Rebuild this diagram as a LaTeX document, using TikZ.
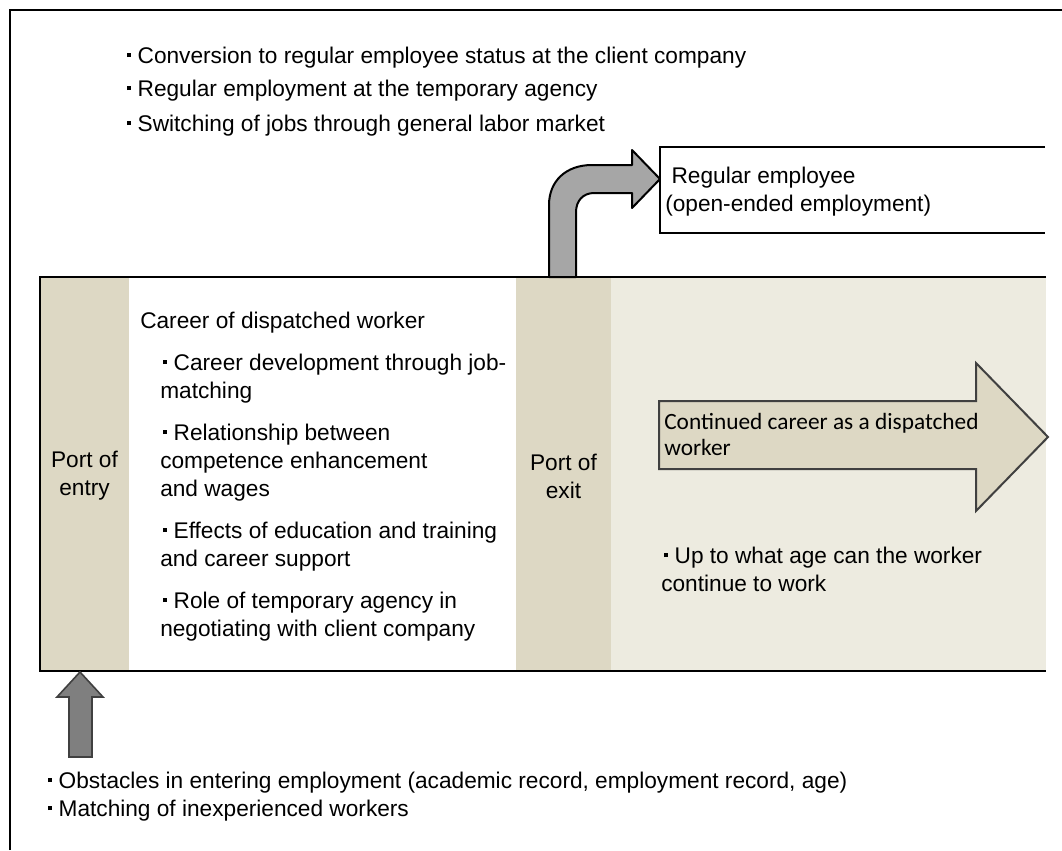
\documentclass[tikz,border=0pt]{standalone}
\usepackage{fontspec}
\setmainfont{Liberation Sans}
\newfontfamily\calfont{Carlito}

\definecolor{portfill}{HTML}{DDD8C4}
\definecolor{workfill}{HTML}{EDEBE0}
\definecolor{bendgray}{HTML}{A6A6A6}
\definecolor{upgray}{HTML}{7F7F7F}
\definecolor{edgegray}{HTML}{404040}

% 小方点
\newcommand{\bul}{\hspace{0.13em}\rule[0.27em]{0.16em}{0.16em}\hspace{0.3em}}

\tikzset{
    txt/.style={anchor=north west, inner sep=0pt, align=left, font=\fontsize{17}{21}\selectfont},
    porttxt/.style={anchor=center, inner sep=0pt, align=center, font=\fontsize{17}{21}\selectfont},
}

\begin{document}
\begin{tikzpicture}[x=0.75pt, y=-0.75pt]
    \useasboundingbox (0,0) rectangle (1062,850);

    % 外框
    \draw[line width=1.5pt] (10,850) -- (10,10) -- (1062,10);

    % 上方说明
    \node[txt] (conv) at (124,46.5) {\bul Conversion to regular employee status at the client company};
    \node[txt] (agency) at (124,79.5) {\bul Regular employment at the temporary agency};
    \node[txt] (switch) at (124,114.5) {\bul Switching of jobs through general labor market};

    % 正式员工
    \draw[line width=1.5pt] (1045,147) -- (660,147) -- (660,233) -- (1045,233);
    \node[txt] (regular) at (665,166.5) {\hspace{0.28em}Regular employee\\(open-ended employment)};

    % 派遣区域
    \fill[portfill] (40,277) rectangle (129,671);
    \fill[portfill] (516,277) rectangle (611,671);
    \fill[workfill] (611,277) rectangle (1046,671);

    % 弯箭头
    \draw[line width=1.5pt, fill=bendgray, line join=round]
        (549,277) -- (549,205) .. controls (549,181) and (566,165) .. (592,165)
        -- (632,165) -- (632,150) -- (660,179) -- (632,208) -- (632,193)
        -- (594,193) .. controls (583,193) and (576,201) .. (576,212) -- (576,277) -- cycle;

    \draw[line width=1.9pt] (1046,277) -- (40,277) -- (40,671) -- (1046,671);

    % 入口与出口
    \node[porttxt] (entry) at (84.5,476) {Port of\\entry};
    \node[porttxt] (exit) at (563.5,476) {Port of\\exit};

    % 派遣工的职业
    \node[txt] (career) at (140,311.5) {Career of dispatched worker};
    \node[txt] (match) at (160,353.5) {\bul Career development through job-\\matching};
    \node[txt] (wage) at (160,423.5) {\bul Relationship between\\competence enhancement\\and wages};
    \node[txt] (train) at (160,521.5) {\bul Effects of education and training\\and career support};
    \node[txt] (role) at (160,591.5) {\bul Role of temporary agency in\\negotiating with client company};

    % 继续派遣
    \draw[line width=1.5pt, draw=edgegray, fill=portfill]
        (659,401) -- (976,401) -- (976,363) -- (1048,437) -- (976,511)
        -- (976,469) -- (659,469) -- cycle;
    \node[txt, font=\calfont\fontsize{17.5}{19.5}\selectfont] (cont) at (664,413)
        {Continued career as a dispatched\\worker};
    \node[txt] (age) at (661,546.5) {\bul Up to what age can the worker\\continue to work};

    % 向上箭头
    \draw[line width=1.2pt, draw=edgegray, fill=upgray]
        (69,757) -- (69,697) -- (57,697) -- (80,672) -- (103,697) -- (92,697) -- (92,757) -- cycle;

    % 下方说明
    \node[txt] (obst) at (45,771.5) {\bul Obstacles in entering employment (academic record, employment record, age)};
    \node[txt] (novice) at (45,799.5) {\bul Matching of inexperienced workers};
\end{tikzpicture}
\end{document}
